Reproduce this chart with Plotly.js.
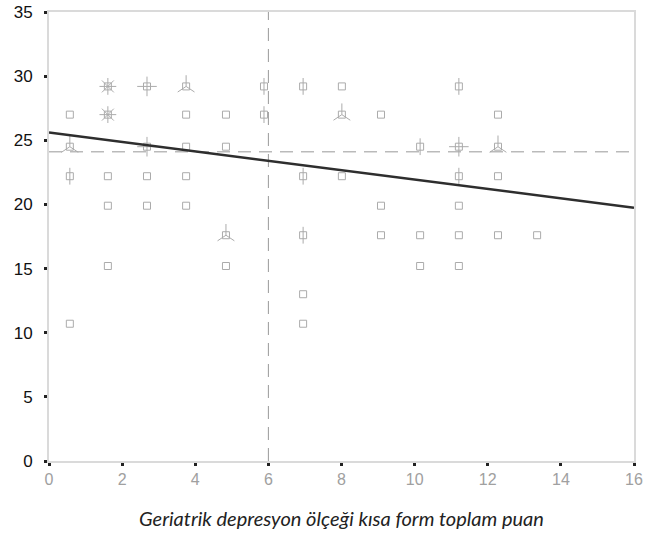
<!DOCTYPE html>
<html>
<head>
<meta charset="utf-8">
<script src="https://cdn.plot.ly/plotly-3.0.1.min.js"></script>
<style>html,body{margin:0;padding:0;background:#fff;}#chart{width:651px;height:538px;}</style>
</head>
<body>
<div id="chart"></div>
<script>
// Scatter (sunflower) points: x, y and number of cases at that position
const ptX = [1.61, 2.68, 3.75, 5.88, 6.95, 8.01, 11.21,
             0.57, 1.61, 3.75, 4.84, 5.88, 8.01, 9.08, 12.28,
             0.57, 2.68, 3.75, 4.84, 10.15, 11.21, 12.28,
             0.57, 1.61, 2.68, 3.75, 6.95, 8.01, 11.21, 12.28,
             1.61, 2.68, 3.75, 9.08, 11.21,
             4.84, 6.95, 9.08, 10.15, 11.21, 12.28, 13.35,
             1.61, 4.84, 10.15, 11.21,
             6.95,
             0.57, 6.95];
const ptY = [29.2, 29.2, 29.2, 29.2, 29.2, 29.2, 29.2,
             27.0, 27.0, 27.0, 27.0, 27.0, 27.0, 27.0, 27.0,
             24.5, 24.5, 24.5, 24.5, 24.5, 24.5, 24.5,
             22.2, 22.2, 22.2, 22.2, 22.2, 22.2, 22.2, 22.2,
             19.9, 19.9, 19.9, 19.9, 19.9,
             17.6, 17.6, 17.6, 17.6, 17.6, 17.6, 17.6,
             15.2, 15.2, 15.2, 15.2,
             13.0,
             10.7, 10.7];
const ptN = [6, 4, 3, 2, 2, 1, 2,
             1, 6, 1, 1, 2, 3, 1, 1,
             3, 4, 1, 1, 2, 4, 3,
             2, 1, 1, 1, 2, 1, 2, 1,
             1, 1, 1, 1, 1,
             3, 2, 1, 1, 1, 1, 1,
             1, 1, 1, 1,
             1,
             1, 1];
// Regression line end points
const fitX = [0, 16];
const fitY = [25.6, 19.75];
// Reference (mean) lines
const meanX = 6;
const meanY = 24.1;
// Axes
const xTicks = [0, 2, 4, 6, 8, 10, 12, 14, 16];
const yTicks = [0, 5, 10, 15, 20, 25, 30, 35];
const xTitle = 'Geriatrik depresyon ölçeği kısa form toplam puan';

const petalSymbol = {2: 'line-ns-open', 3: 'y-up-open', 4: 'cross-thin-open', 6: 'asterisk-open'};
const mc = '#ababab';
const traces = [];
traces.push({x: [meanX, meanX], y: [0, 35], mode: 'lines', line: {color: '#999', width: 1, dash: '13px,8px'}, hoverinfo: 'skip'});
traces.push({x: [0, 16], y: [meanY, meanY], mode: 'lines', line: {color: '#999', width: 1, dash: '13px,8px'}, hoverinfo: 'skip'});
traces.push({x: ptX, y: ptY, mode: 'markers', marker: {symbol: 'square-open', size: 7, color: mc, line: {color: mc, width: 1}}});
[2, 3, 4, 6].forEach(n => {
  const xs = [], ys = [];
  ptN.forEach((c, i) => { if (c === n) { xs.push(ptX[i]); ys.push(ptY[i]); } });
  traces.push({x: xs, y: ys, mode: 'markers', marker: {symbol: petalSymbol[n], size: n === 2 ? 12 : 14, color: mc, line: {color: mc, width: 1}}});
});
traces.push({x: fitX, y: fitY, mode: 'lines', line: {color: '#2e2e2e', width: 2.5}});

const layout = {
  width: 651, height: 538,
  margin: {l: 49, r: 17, t: 12, b: 77},
  paper_bgcolor: '#fff', plot_bgcolor: '#fff',
  showlegend: false,
  xaxis: {
    range: [0, 16], tickvals: xTicks, ticktext: xTicks.map(String),
    showgrid: false, zeroline: false,
    showline: true, linecolor: '#dadada', linewidth: 2, mirror: true,
    ticks: 'outside', ticklen: 3, tickwidth: 3, tickcolor: '#222',
    tickfont: {family: 'Liberation Sans Narrow, Arial Narrow, sans-serif', size: 16, color: '#a0a0a0'},
    title: {text: xTitle, font: {family: 'Lato, Open Sans, sans-serif', size: 20, color: '#222', style: 'italic'}, standoff: 25}
  },
  yaxis: {
    range: [0, 35], tickvals: yTicks, ticktext: yTicks.map(String),
    showgrid: false, zeroline: false,
    showline: true, linecolor: '#dadada', linewidth: 2, mirror: true,
    ticks: 'outside', ticklen: 3, tickwidth: 3, tickcolor: '#222',
    ticklabelstandoff: 8,
    tickfont: {family: 'Liberation Sans, Arial, sans-serif', size: 17, color: '#111'}
  }
};
Plotly.newPlot('chart', traces, layout, {displayModeBar: false, staticPlot: true});
</script>
</body>
</html>
